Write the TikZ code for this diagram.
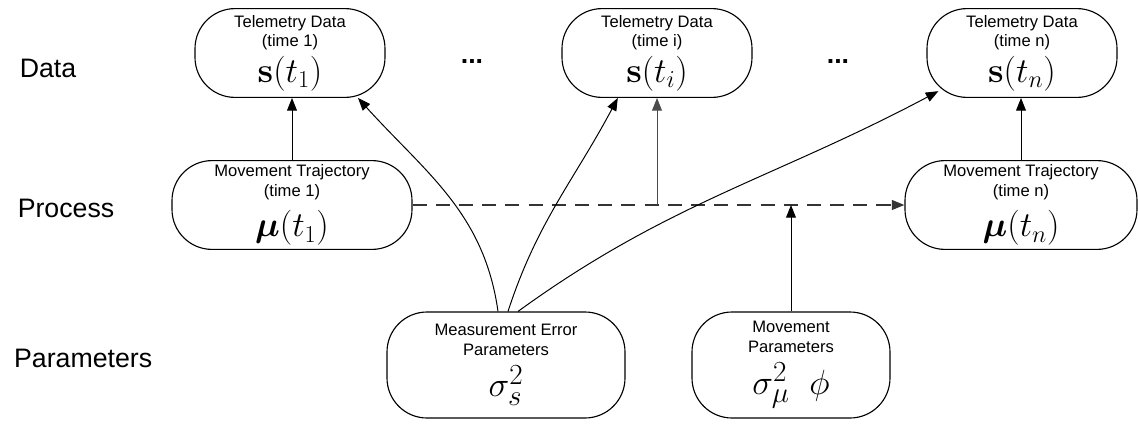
\documentclass[tikz,border=0pt]{standalone}
\usepackage{amsmath,bm}
\usepackage[no-math]{fontspec}
\setmainfont{Liberation Sans}
\usetikzlibrary{arrows.meta}
\newcommand{\boxtitle}{\fontsize{11.8}{14}\selectfont}
\newcommand{\boxmath}{\fontsize{24}{26}\selectfont}
\newcommand{\parmath}{\fontsize{30}{32}\selectfont}
\begin{document}
\begin{tikzpicture}[
    >={Triangle[length=9pt,width=7pt]},
    % Styles
    block/.style={
      rectangle,
      draw=black,
      line width=0.8pt,
      align=center,
      minimum width=4.75cm,
      minimum height=2.22cm,
      rounded corners=1.0cm,
      inner sep=0pt,
      font=\boxtitle,
    },
    rowlabel/.style={font=\fontsize{19}{22}\selectfont},
    link/.style={->, line width=0.7pt},
  ]
  \useasboundingbox (0,0) rectangle (28.45,-10.675);
  % Row labels
  \node[rowlabel] (ldata) at (1.2,-1.72) {Data};
  \node[rowlabel] (lproc) at (1.65,-5.2) {Process};
  \node[rowlabel] (lpar) at (2.08,-8.95) {Parameters};
  % Data
  \node[block] (s1) at (7.25,-1.325) {Telemetry Data\\(time 1)\\[3pt]{\boxmath$\mathbf{s}(t_1)$}};
  \node[block] (si) at (16.425,-1.325) {Telemetry Data\\(time i)\\[3pt]{\boxmath$\mathbf{s}(t_i)$}};
  \node[block] (sn) at (25.55,-1.325) {Telemetry Data\\(time n)\\[3pt]{\boxmath$\mathbf{s}(t_n)$}};
  \node[rowlabel, font=\fontsize{19}{22}\bfseries] (dots1) at (11.8,-1.55) {...};
  \node[rowlabel, font=\fontsize{19}{22}\bfseries] (dots2) at (20.95,-1.55) {...};
  % Process
  \node[block, minimum width=6.0cm] (mu1) at (7.3,-5.125) {Movement Trajectory\\(time 1)\\[7pt]{\boxmath$\bm{\mu}(t_1)$}};
  \node[block, minimum width=5.8cm] (mun) at (25.525,-5.125) {Movement Trajectory\\(time n)\\[7pt]{\boxmath$\bm{\mu}(t_n)$}};
  % Parameters
  \node[block, minimum width=5.95cm, minimum height=2.65cm] (meas) at (12.65,-9.125) {Measurement Error\\Parameters\\[6pt]{\parmath$\sigma_s^2$}};
  \node[block, minimum width=4.95cm, minimum height=2.65cm] (move) at (19.775,-9.125) {Movement\\Parameters\\[6pt]{\parmath$\sigma_\mu^2\;\;\phi$}};
  % Connectors
  \coordinate (tap) at (si.south |- mu1.east);
  \coordinate (join) at (move.north |- mu1.east);
  \draw[->, line width=1.3pt, black!80, dash pattern=on 10pt off 6.5pt] (mu1.east) -- (mun.west);
  \draw[link] (mu1.north) -- (mu1.north |- s1.south);
  \draw[link, black!70] (tap) -- (si.south);
  \draw[link] (move.north) -- (join);
  \draw[link] (mun.north) -- (mun.north |- sn.south);
  \draw[link] ([xshift=-0.2cm]meas.north) to[out=98,in=-48] ([xshift=1.7cm]s1.south);
  \draw[link] ([xshift=0.05cm]meas.north) to[out=72,in=-118] ([xshift=-0.98cm]si.south);
  \draw[link] ([xshift=0.3cm]meas.north) to[out=36,in=-152] ([shift={(0.3,0.17)}]sn.south west);
\end{tikzpicture}
\end{document}
